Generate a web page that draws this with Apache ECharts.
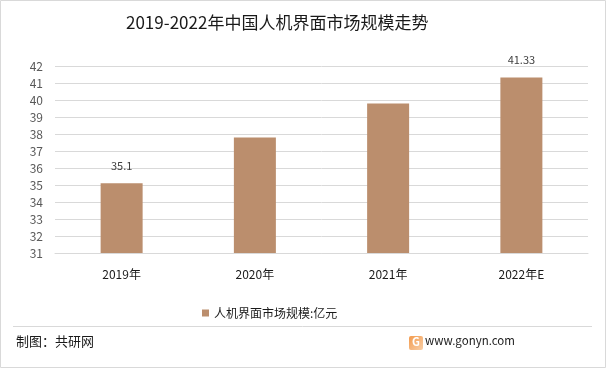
<!DOCTYPE html>
<html><head><meta charset="utf-8">
<script src="https://cdn.jsdelivr.net/npm/echarts@6/dist/echarts.min.js"></script>
<style>html,body{margin:0;padding:0;background:#fff}#c{width:606px;height:368px}</style>
</head><body><div id="c"></div>
<script>
const titleText = '2019-2022年中国人机界面市场规模走势';
const categories = ['2019年', '2020年', '2021年', '2022年E'];
const values = [35.1, 37.8, 39.8, 41.33];
const labeledIdx = [0, 3];
const seriesName = '人机界面市场规模:亿元';
const yMin = 31, yMax = 42, yInterval = 1;
const footerLeft = '制图：共研网';
const footerRight = 'www.gonyn.com';

const font = '"Noto Sans CJK SC", "Microsoft YaHei", sans-serif';
const chart = echarts.init(document.getElementById('c'));
chart.setOption({
  animation: false,
  textStyle: { fontFamily: font },
  title: { text: titleText, left: 121, top: 9,
    textStyle: { fontSize: 17, fontWeight: 'normal', color: '#1a1a1a', fontFamily: font } },
  grid: { left: 55, right: 18, top: 66, bottom: 115, containLabel: false },
  xAxis: { type: 'category', data: categories,
    axisLine: { show: true, lineStyle: { color: '#d9d9d9' } }, axisTick: { show: false },
    axisLabel: { color: '#1a1a1a', fontSize: 12, margin: 15, fontFamily: font } },
  yAxis: { type: 'value', min: yMin, max: yMax, interval: yInterval,
    axisLine: { show: false }, axisTick: { show: false },
    splitLine: { lineStyle: { color: '#d9d9d9' } },
    axisLabel: { color: '#595959', fontSize: 12, margin: 12, fontFamily: font } },
  legend: { top: 302, left: 197, itemWidth: 7, itemHeight: 7, itemGap: 5,
    icon: 'rect', textStyle: { fontSize: 12, color: '#1a1a1a', fontFamily: font },
    data: [seriesName] },
  series: [{ name: seriesName, type: 'bar', barWidth: 42,
    itemStyle: { color: '#bb8e6d' },
    data: values.map((v, i) => ({ value: v,
      label: { show: labeledIdx.includes(i), position: 'top', distance: 12,
        color: '#404040', fontSize: 11, fontFamily: font } })) }],
  graphic: [
    { type: 'rect', shape: { x: 0.5, y: 0.5, width: 605, height: 367 },
      style: { fill: 'none', stroke: '#d9d9d9', lineWidth: 1 }, silent: true },
    { type: 'line', shape: { x1: 13, y1: 326.5, x2: 592, y2: 326.5 },
      style: { stroke: '#d9d9d9', lineWidth: 1 } },
    { type: 'text', left: 16, top: 335,
      style: { text: footerLeft, fontSize: 13, fill: '#1a1a1a', fontFamily: font } },
    { type: 'rect', shape: { x: 409, y: 336, width: 14, height: 14, r: 2 },
      style: { fill: new echarts.graphic.LinearGradient(0, 0, 1, 1, [
        { offset: 0, color: '#f39a4c' }, { offset: 1, color: '#f8cfa8' }]) } },
    { type: 'text', x: 412, y: 336,
      style: { text: 'G', fontSize: 11, fontWeight: 'bold', fill: '#fff', fontFamily: font } },
    { type: 'text', left: 425, top: 335,
      style: { text: footerRight, fontSize: 11.5, fill: '#1a1a1a', fontFamily: font } }
  ]
});
</script></body></html>
